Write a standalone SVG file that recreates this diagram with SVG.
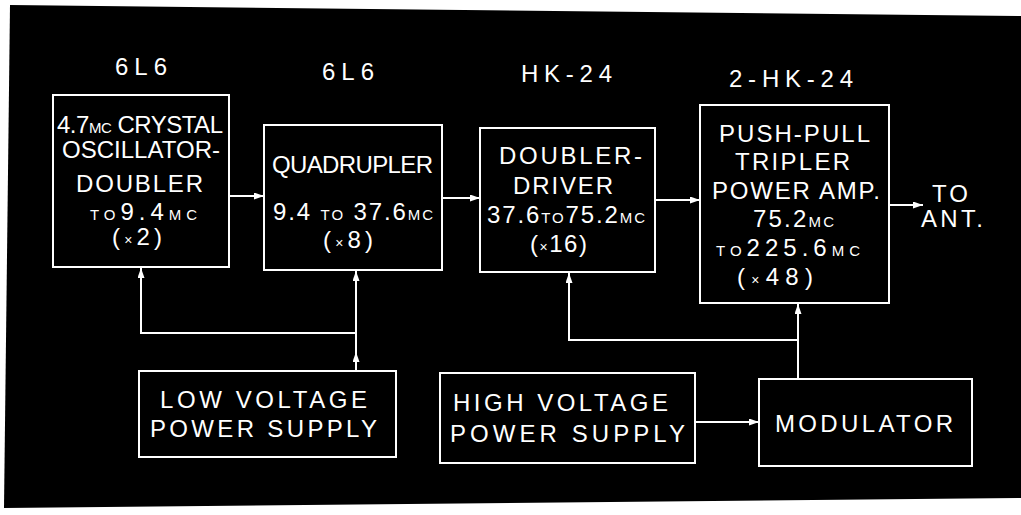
<svg xmlns="http://www.w3.org/2000/svg" width="1021" height="515" viewBox="0 0 1021 515">
<style>
.box{fill:none;stroke:#fff;stroke-width:2}
.t{fill:#fff;font-family:"Liberation Sans",Arial,sans-serif;font-size:24px;text-anchor:start}
.s{font-size:15px}
.x{font-size:14px}
.c{fill:none;stroke:#fff;stroke-width:2}
</style>
<defs>
<marker id="ah" markerUnits="userSpaceOnUse" markerWidth="10" markerHeight="7" refX="10" refY="3.5" orient="auto">
<path d="M0,0 L10,3.5 L0,7 z" fill="#fff"/>
</marker>
</defs>
<rect width="1021" height="515" fill="#fff"/>
<polygon points="10,5 1021,16 1021,498 4,508" fill="#000"/>

<g id="tube-labels">
<text class="t" x="115" y="75" textLength="52">6L6</text>
<text class="t" x="322" y="80" textLength="52">6L6</text>
<text class="t" x="521" y="82" textLength="91">HK-24</text>
<text class="t" x="729" y="87" textLength="124">2-HK-24</text>
</g>

<g id="crystal-osc">
<rect class="box" x="53" y="95" width="176" height="172"/>
<text class="t" x="57" y="133" textLength="166">4.7<tspan class="s">MC</tspan> CRYSTAL</text>
<text class="t" x="62" y="158" textLength="158">OSCILLATOR-</text>
<text class="t" x="76" y="192" textLength="127">DOUBLER</text>
<text class="t" x="90" y="220" textLength="107"><tspan class="s">TO</tspan>9.4<tspan class="s">MC</tspan></text>
<text class="t" x="112" y="245" textLength="50">(<tspan class="x">×</tspan>2)</text>
</g>

<g id="quadrupler">
<rect class="box" x="264" y="125" width="178" height="145"/>
<text class="t" x="272" y="173" textLength="161">QUADRUPLER</text>
<text class="t" x="273" y="220" textLength="160">9.4 <tspan class="s">TO</tspan> 37.6<tspan class="s">MC</tspan></text>
<text class="t" x="323" y="248" textLength="50">(<tspan class="x">×</tspan>8)</text>
</g>

<g id="doubler-driver">
<rect class="box" x="480" y="128" width="175" height="144"/>
<text class="t" x="499" y="164" textLength="143">DOUBLER-</text>
<text class="t" x="513" y="194" textLength="100">DRIVER</text>
<text class="t" x="487" y="223" textLength="158">37.6<tspan class="s">TO</tspan>75.2<tspan class="s">MC</tspan></text>
<text class="t" x="530" y="252" textLength="57">(<tspan class="x">×</tspan>16)</text>
</g>

<g id="power-amp">
<rect class="box" x="700" y="105" width="189" height="198"/>
<text class="t" x="719" y="142" textLength="151">PUSH-PULL</text>
<text class="t" x="735" y="170" textLength="115">TRIPLER</text>
<text class="t" x="712" y="199" textLength="168">POWER AMP.</text>
<text class="t" x="753" y="227" textLength="81">75.2<tspan class="s">MC</tspan></text>
<text class="t" x="716" y="256" textLength="144"><tspan class="s">TO</tspan>225.6<tspan class="s">MC</tspan></text>
<text class="t" x="737" y="285" textLength="76">(<tspan class="x">×</tspan>48)</text>
</g>

<g id="antenna">
<text class="t" x="932" y="202" textLength="36">TO</text>
<text class="t" x="921" y="227" textLength="62">ANT.</text>
</g>

<g id="low-voltage-supply">
<rect class="box" x="139" y="371" width="257" height="86"/>
<text class="t" x="160" y="408" textLength="207">LOW VOLTAGE</text>
<text class="t" x="150" y="437" textLength="227">POWER SUPPLY</text>
</g>

<g id="high-voltage-supply">
<rect class="box" x="440" y="373" width="255" height="90"/>
<text class="t" x="453" y="411" textLength="215">HIGH VOLTAGE</text>
<text class="t" x="450" y="442" textLength="235">POWER SUPPLY</text>
</g>

<g id="modulator">
<rect class="box" x="759" y="379" width="213" height="87"/>
<text class="t" x="775" y="432" textLength="178">MODULATOR</text>
</g>

<g id="connectors">
<path class="c" d="M229,196 L264,196" marker-end="url(#ah)"/>
<path class="c" d="M442,198 L480,198" marker-end="url(#ah)"/>
<path class="c" d="M655,200 L700,200" marker-end="url(#ah)"/>
<path class="c" d="M889,205 L923,205" marker-end="url(#ah)"/>
<path class="c" d="M356,371 L356,352" marker-end="url(#ah)"/>
<path class="c" d="M356,352 L356,271" marker-end="url(#ah)"/>
<path class="c" d="M356,333 L141,333 L141,268" marker-end="url(#ah)"/>
<path class="c" d="M695,422 L759,422" marker-end="url(#ah)"/>
<path class="c" d="M798,379 L798,304" marker-end="url(#ah)"/>
<path class="c" d="M798,340 L569,340 L569,273" marker-end="url(#ah)"/>
</g>
</svg>
